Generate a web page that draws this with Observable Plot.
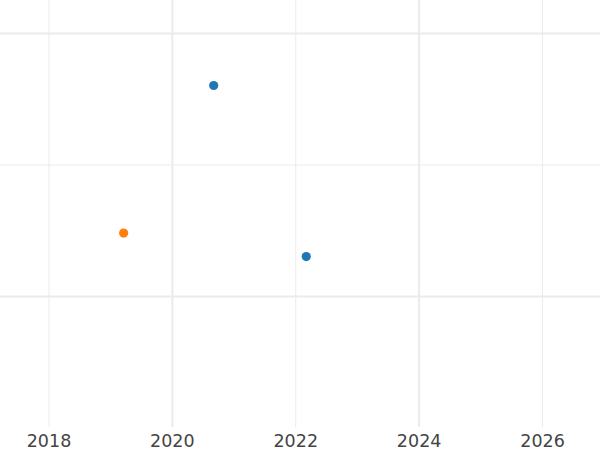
<!DOCTYPE html>
<html>
<head>
<meta charset="utf-8">
<script src="https://cdn.jsdelivr.net/npm/d3@7"></script>
<script src="https://cdn.jsdelivr.net/npm/@observablehq/plot@0.6"></script>
<style>
  html, body { margin: 0; padding: 0; background: #fff; }
  #chart svg { display: block; }
</style>
</head>
<body>
<div id="chart"></div>
<script>
// Data
const years = [2020.67, 2019.21, 2022.17];
const values = [1.605, 0.483, 0.304];
const series = ["A", "B", "A"];
const seriesNames = ["A", "B"];
const seriesColors = ["#1f77b4", "#ff7f0e"];

// Axis / grid definitions
const xTicks = [2018, 2020, 2022, 2024, 2026];
const xMajorGrid = [2020, 2024];
const xMinorGrid = [2018, 2022, 2026];
const yMajorGrid = [0, 2];
const yMinorGrid = [1];

const points = years.map((x, i) => ({x, y: values[i], s: series[i]}));

const chart = Plot.plot({
  width: 600,
  height: 450,
  marginTop: 0,
  marginRight: 0,
  marginBottom: 23,
  marginLeft: 0,
  style: {fontFamily: "DejaVu Sans, sans-serif", background: "#fff"},
  x: {domain: [2017.214, 2026.94], label: null},
  y: {domain: [-0.995, 2.251], label: null},
  color: {domain: seriesNames, range: seriesColors},
  marks: [
    Plot.ruleX(xMinorGrid, {stroke: "#ebebeb", strokeWidth: 1}),
    Plot.ruleX(xMajorGrid, {stroke: "#ebebeb", strokeWidth: 2}),
    Plot.ruleY(yMinorGrid, {stroke: "#ebebeb", strokeWidth: 1}),
    Plot.ruleY(yMajorGrid, {stroke: "#ebebeb", strokeWidth: 2}),
    Plot.axisX({ticks: xTicks, tickFormat: "d", tickSize: 0, tickPadding: 7, fontSize: 17.5, color: "#444", label: null}),
    Plot.axisY({ticks: [], label: null}),
    Plot.dot(points, {x: "x", y: "y", fill: "s", r: 4.6, stroke: null})
  ]
});
document.getElementById("chart").appendChild(chart);
</script>
</body>
</html>
